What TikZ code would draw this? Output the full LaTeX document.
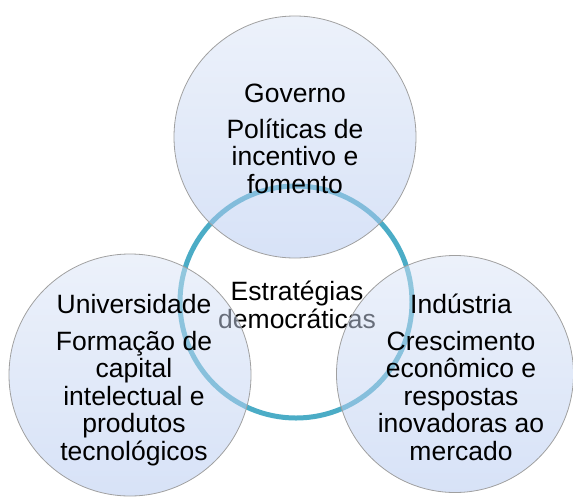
\documentclass[tikz,border=0pt]{standalone}
\usepackage{fontspec}
\setmainfont{Liberation Sans}
\usepackage{xcolor}
\usetikzlibrary{positioning}

\definecolor{anel}{RGB}{75,172,198}
\definecolor{bolatopo}{RGB}{218,228,246}
\definecolor{bolabase}{RGB}{176,198,240}
\definecolor{borda}{RGB}{160,160,160}

\begin{document}
\begin{tikzpicture}[x=1pt, y=-1pt,
  ator/.style={circle, draw=borda, line width=0.8pt, minimum size=242pt,
    top color=bolatopo, bottom color=bolabase, fill opacity=0.5, draw opacity=1},
  texto/.style={anchor=base, align=center, inner sep=0pt, font=\fontsize{26.5}{27.5}\selectfont}]

  \useasboundingbox (0,0) rectangle (573,496);

  % anel central
  \node[circle, draw=anel, line width=5pt, minimum size=232pt] (Anel) at (296,302) {};
  \node[texto, font=\fontsize{26.5}{28}\selectfont] (Est) at (297,328) {Estratégias\\democráticas};

  % atores
  \node[ator] (Gov) at (295,137) {};
  \node[ator] (Uni) at (130,375) {};
  \node[ator, minimum size=237pt] (Ind) at (455,374) {};

  % textos (base = ultima linha)
  \node[texto] (GovX) at (295,193) {Governo\\[8.5pt]Políticas de\\incentivo e\\fomento};
  \node[texto] (UniX) at (134,460) {Universidade\\[9pt]Formação de\\capital\\intelectual e\\produtos\\tecnológicos};
  \node[texto] (IndX) at (461,460) {Indústria\\[9pt]Crescimento\\econômico e\\respostas\\inovadoras ao\\mercado};

\end{tikzpicture}
\end{document}
